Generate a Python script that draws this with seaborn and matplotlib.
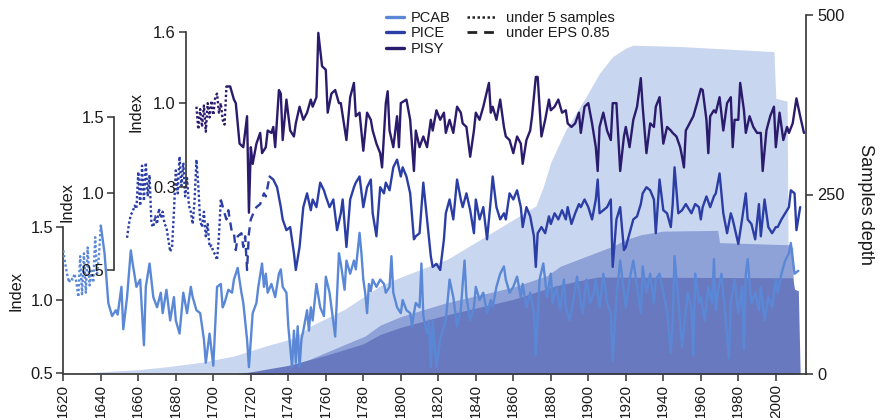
import matplotlib
matplotlib.use("Agg")
import matplotlib.pyplot as plt
from matplotlib import font_manager as fm
from matplotlib.lines import Line2D
import pandas as pd
import seaborn as sns

# ---------------------------------------------------------------- data
# Chronology indices (year, index)
PCAB = [
    (1620, 1.34), (1621, 1.25), (1622, 1.18), (1623, 1.12), (1624, 1.15), (1625, 1.14), (1626, 1.18),
    (1627, 1.12), (1628, 1.02), (1629, 1.30), (1630, 1.04), (1631, 1.32), (1632, 1.05), (1633, 1.36),
    (1634, 1.10), (1635, 1.20), (1636, 1.12), (1637, 1.43), (1638, 1.18), (1639, 1.30),
    (1640, 1.51), (1642, 1.32), (1644, 0.98), (1646, 0.89), (1648, 0.93), (1649, 0.90), (1651, 1.09),
    (1652, 0.80), (1654, 1.02), (1656, 1.34), (1657, 1.25), (1659, 1.09), (1661, 1.14), (1663, 0.69),
    (1664, 1.09), (1666, 1.25), (1668, 1.02), (1670, 0.95), (1672, 1.05), (1673, 0.91), (1675, 1.07),
    (1677, 0.86), (1679, 1.02), (1680, 0.86), (1682, 0.77), (1684, 1.05), (1686, 0.91), (1688, 1.09),
    (1689, 1.02), (1691, 0.93), (1693, 0.91), (1695, 0.73), (1696, 0.57),
    (1698, 0.77), (1700, 0.55), (1702, 1.09), (1704, 1.11), (1705, 0.95), (1706, 0.98), (1708, 1.07),
    (1710, 1.05), (1711, 1.14), (1713, 1.22), (1715, 1.05), (1716, 0.98), (1718, 0.73), (1719, 0.54),
    (1720, 0.73), (1721, 0.91), (1723, 0.98), (1724, 1.09), (1726, 1.25), (1727, 1.09), (1728, 1.18),
    (1729, 1.05), (1731, 1.11), (1733, 1.02), (1735, 1.18), (1736, 1.21), (1737, 1.09), (1739, 1.05),
    (1740, 0.82), (1742, 0.54), (1743, 0.79), (1744, 0.57), (1745, 0.82), (1746, 0.54), (1747, 0.73),
    (1748, 0.79), (1750, 0.93), (1751, 0.79), (1752, 0.95), (1753, 0.86), (1755, 1.11), (1757, 0.95),
    (1759, 0.89), (1760, 1.16), (1762, 1.05), (1765, 0.75), (1767, 1.32), (1768, 1.25), (1770, 1.07),
    (1771, 1.27), (1773, 1.18), (1775, 1.27), (1776, 1.21),
    (1778, 1.46), (1779, 1.32), (1780, 1.14), (1781, 1.05), (1782, 0.91), (1783, 1.11), (1784, 1.06),
    (1785, 1.14), (1787, 1.09), (1789, 1.14), (1791, 1.11), (1792, 1.05), (1794, 1.09), (1795, 1.30),
    (1796, 1.05), (1798, 0.95), (1800, 0.91), (1801, 1.00), (1803, 0.93), (1805, 0.91), (1806, 0.82),
    (1807, 0.91), (1808, 0.98), (1810, 0.95), (1811, 1.25), (1812, 0.89), (1814, 0.77), (1815, 0.86),
    (1816, 0.54), (1817, 0.86), (1819, 0.54), (1821, 0.73), (1823, 0.82), (1824, 0.86), (1826, 1.14),
    (1828, 1.02), (1830, 0.82), (1832, 0.93), (1833, 1.11), (1834, 1.27), (1835, 1.02), (1837, 0.86),
    (1839, 0.95), (1840, 1.09), (1842, 1.00), (1844, 1.05), (1846, 0.91), (1848, 1.00), (1849, 0.95),
    (1851, 1.09), (1853, 1.18), (1855, 1.23), (1856, 1.14),
    (1858, 1.05), (1860, 1.09), (1862, 1.16), (1864, 1.02), (1865, 1.11), (1867, 0.95), (1869, 1.05),
    (1871, 0.91), (1872, 0.62), (1874, 1.14), (1876, 1.25), (1878, 1.02), (1880, 1.18), (1881, 0.98),
    (1883, 1.09), (1885, 0.93), (1887, 1.14), (1888, 0.95), (1890, 0.86), (1892, 1.00), (1894, 1.16),
    (1896, 0.98), (1897, 0.91), (1899, 1.14), (1901, 0.98), (1903, 1.05), (1904, 1.14), (1906, 0.95),
    (1908, 1.18), (1910, 0.98), (1912, 0.91), (1913, 0.58), (1915, 1.02), (1917, 1.27), (1919, 1.05),
    (1920, 0.95), (1922, 1.14), (1924, 1.27), (1926, 1.09), (1928, 0.91), (1929, 1.23), (1931, 1.05),
    (1933, 1.18), (1935, 0.98), (1936, 1.14),
    (1938, 1.18), (1940, 1.05), (1942, 0.93), (1944, 0.64), (1945, 0.86), (1946, 1.30), (1948, 1.00),
    (1950, 0.68), (1952, 0.93), (1953, 1.05), (1955, 0.95), (1956, 0.62), (1957, 1.18), (1959, 0.98),
    (1960, 1.02), (1962, 0.86), (1964, 1.09), (1966, 0.98), (1967, 1.28), (1968, 0.93), (1969, 1.05),
    (1971, 1.18), (1973, 0.91), (1975, 0.60), (1976, 0.98), (1978, 1.14), (1980, 0.91), (1982, 1.09),
    (1983, 0.66), (1984, 1.18), (1985, 1.28), (1987, 0.98), (1989, 1.05), (1991, 0.93), (1992, 1.09),
    (1994, 0.86), (1996, 1.02), (1998, 0.95), (2000, 1.14), (2001, 1.05), (2003, 1.18), (2005, 1.27),
    (2007, 1.32), (2008, 1.39), (2010, 1.18), (2012, 1.20),
]

PICE = [
    (1654, 0.71), (1655, 0.80), (1656, 0.86), (1657, 0.88), (1658, 0.92), (1659, 0.90), (1660, 1.14),
    (1661, 0.92), (1662, 1.18), (1663, 0.95), (1664, 1.20), (1665, 0.98), (1666, 1.12), (1667, 0.80),
    (1668, 0.78), (1669, 0.85), (1670, 0.80), (1671, 0.90), (1672, 0.84), (1673, 0.88), (1674, 0.80),
    (1675, 0.78), (1676, 0.70), (1677, 0.62), (1678, 0.65), (1679, 0.88), (1680, 1.15), (1681, 1.00),
    (1682, 1.24), (1683, 1.05), (1684, 1.20), (1685, 0.98), (1686, 1.10), (1687, 0.92), (1688, 0.88),
    (1689, 0.80), (1690, 0.95), (1691, 1.22), (1692, 1.05), (1693, 0.82), (1694, 0.78), (1695, 0.88),
    (1696, 0.72), (1697, 0.80), (1698, 0.65), (1699, 0.66), (1700, 0.62), (1701, 0.60), (1702, 0.565),
    (1703, 0.72),
    (1704, 0.96), (1706, 0.87), (1707, 0.83), (1708, 0.89), (1710, 0.74), (1711, 0.74), (1712, 0.63),
    (1713, 0.72), (1715, 0.74), (1716, 0.65), (1717, 0.72), (1718, 0.50), (1719, 0.74), (1720, 0.83),
    (1722, 0.89), (1723, 0.91), (1725, 0.93), (1727, 1.00), (1728, 0.98),
    (1730, 1.11), (1732, 1.09), (1734, 1.04), (1736, 0.91), (1737, 0.83), (1739, 0.76), (1741, 0.78),
    (1743, 0.61), (1744, 0.50), (1746, 0.65), (1748, 0.91), (1750, 1.00), (1752, 0.89), (1753, 0.96),
    (1755, 0.91), (1757, 1.07), (1759, 1.02), (1760, 0.98), (1762, 0.91), (1764, 0.96), (1766, 0.76),
    (1768, 0.87), (1769, 0.96), (1771, 0.65), (1773, 0.96), (1775, 1.04), (1776, 1.07),
    (1778, 1.11), (1780, 0.91), (1782, 1.04), (1784, 1.09), (1785, 0.87), (1787, 0.72), (1789, 1.04),
    (1791, 1.00), (1792, 1.07), (1794, 1.02), (1796, 1.17), (1798, 1.22), (1800, 1.11), (1801, 1.17),
    (1803, 1.11), (1805, 1.00), (1807, 0.70), (1808, 0.72), (1810, 0.74), (1812, 1.07), (1814, 0.83),
    (1816, 0.59), (1817, 0.52), (1819, 0.54), (1821, 0.50), (1823, 0.70), (1824, 0.87), (1826, 0.96),
    (1828, 0.83), (1830, 1.09), (1832, 0.96), (1833, 0.91), (1835, 1.00), (1837, 0.89), (1839, 0.74),
    (1840, 0.96), (1842, 0.83), (1844, 0.91), (1846, 0.70), (1848, 0.96), (1849, 1.11), (1851, 0.91),
    (1853, 0.83), (1855, 0.87), (1856, 0.83),
    (1858, 1.00), (1860, 0.96), (1862, 1.02), (1864, 0.91), (1865, 0.78), (1867, 0.91), (1869, 0.85),
    (1871, 0.72), (1872, 0.52), (1873, 0.74), (1875, 0.78), (1877, 0.74), (1879, 0.85), (1880, 0.80),
    (1882, 0.87), (1884, 0.83), (1886, 0.89), (1888, 0.83), (1889, 0.91), (1891, 0.80), (1893, 0.87),
    (1895, 0.93), (1896, 0.91), (1898, 0.96), (1900, 0.91), (1902, 0.83), (1904, 0.96), (1905, 1.09),
    (1906, 0.87), (1908, 0.89), (1910, 0.91), (1912, 0.96), (1913, 0.52), (1915, 0.83), (1917, 0.91),
    (1919, 0.63), (1920, 0.65), (1922, 0.74), (1924, 0.83), (1926, 0.85), (1928, 0.93), (1929, 1.00),
    (1931, 1.04), (1933, 1.02), (1935, 0.96), (1936, 0.74),
    (1938, 1.09), (1940, 0.89), (1942, 0.87), (1944, 0.78), (1945, 0.93), (1946, 1.17), (1948, 0.87),
    (1950, 0.89), (1952, 0.93), (1953, 0.91), (1955, 0.87), (1957, 0.93), (1959, 0.91), (1960, 0.83),
    (1961, 0.91), (1963, 0.98), (1965, 0.91), (1967, 0.98), (1968, 1.00), (1970, 1.13), (1972, 0.87),
    (1974, 0.74), (1976, 0.87), (1977, 0.83), (1980, 0.67), (1982, 0.83), (1984, 1.00), (1985, 0.83),
    (1987, 0.80), (1989, 0.70), (1991, 0.93), (1992, 0.72), (1994, 0.96), (1996, 0.78), (1998, 0.74),
    (2000, 0.78), (2001, 0.78), (2003, 0.83), (2005, 0.87), (2007, 0.91), (2008, 1.02), (2010, 1.00),
    (2011, 0.76), (2013, 0.91),
]

PISY = [
    (1691, 0.97), (1692, 0.78), (1693, 0.95), (1694, 0.80), (1695, 0.98), (1696, 0.76), (1697, 1.00),
    (1698, 0.88), (1699, 1.02), (1700, 0.90), (1701, 1.05), (1702, 1.08), (1703, 0.92), (1704, 1.00),
    (1705, 0.86), (1706, 0.82),
    (1707, 1.14), (1709, 1.14), (1711, 1.03), (1712, 1.00), (1714, 0.66), (1716, 0.63), (1718, 0.89),
    (1719, 0.08), (1720, 0.63), (1721, 0.49), (1723, 0.66), (1725, 0.75), (1726, 0.58), (1728, 0.63),
    (1729, 0.77), (1731, 0.75), (1732, 0.80), (1733, 0.63), (1735, 1.11), (1736, 1.08), (1737, 0.69),
    (1739, 1.03), (1741, 0.77), (1743, 0.72), (1744, 0.83), (1746, 0.97), (1748, 0.86), (1750, 0.92),
    (1752, 1.03), (1753, 0.97), (1755, 1.05), (1756, 1.59), (1758, 1.31), (1760, 1.28), (1761, 0.92),
    (1763, 1.08), (1765, 1.11), (1767, 1.00), (1768, 1.00), (1771, 0.69), (1773, 1.05), (1775, 1.17),
    (1776, 0.89),
    (1778, 0.92), (1780, 0.60), (1782, 0.92), (1784, 0.86), (1785, 0.77), (1787, 0.66), (1789, 0.58),
    (1790, 0.46), (1792, 1.00), (1793, 1.10), (1794, 0.77), (1796, 0.63), (1798, 0.89), (1799, 0.63),
    (1800, 1.00), (1803, 1.03), (1805, 0.86), (1807, 0.43), (1808, 0.77), (1810, 0.63), (1812, 0.72),
    (1814, 0.63), (1816, 0.86), (1817, 0.77), (1819, 0.94), (1821, 0.86), (1823, 0.92), (1824, 0.75),
    (1826, 0.86), (1828, 0.75), (1830, 0.97), (1832, 0.92), (1833, 0.83), (1835, 0.80), (1837, 0.55),
    (1839, 0.77), (1840, 0.92), (1842, 0.86), (1844, 0.97), (1847, 1.17), (1848, 0.92), (1849, 0.97),
    (1851, 0.86), (1853, 1.03), (1855, 0.80), (1856, 0.72),
    (1858, 0.69), (1860, 0.58), (1862, 0.72), (1864, 0.66), (1865, 0.49), (1867, 0.69), (1869, 0.77),
    (1870, 0.89), (1872, 1.22), (1873, 1.22), (1874, 0.97), (1875, 0.72), (1877, 0.86), (1879, 1.03),
    (1880, 0.94), (1882, 0.97), (1884, 1.03), (1886, 0.92), (1888, 0.94), (1889, 0.83), (1891, 0.80),
    (1893, 0.83), (1895, 0.92), (1896, 0.75), (1898, 0.97), (1900, 1.00), (1902, 0.83), (1904, 0.63),
    (1905, 0.43), (1906, 0.80), (1908, 0.92), (1910, 0.77), (1912, 0.69), (1913, 1.00), (1915, 1.00),
    (1917, 0.43), (1919, 0.72), (1920, 0.80), (1922, 0.63), (1924, 0.86), (1926, 0.97), (1928, 1.21),
    (1929, 0.97), (1931, 0.58), (1933, 0.83), (1935, 0.80), (1936, 0.97),
    (1938, 1.05), (1940, 0.66), (1942, 0.80), (1944, 0.77), (1945, 0.75), (1947, 0.72), (1949, 0.63),
    (1950, 0.55), (1951, 0.46), (1952, 0.77), (1954, 0.83), (1956, 0.89), (1958, 1.00), (1960, 1.12),
    (1961, 1.11), (1963, 0.86), (1964, 0.58), (1965, 0.89), (1967, 0.94), (1968, 0.92), (1970, 1.05),
    (1972, 0.77), (1974, 1.00), (1976, 1.05), (1977, 0.63), (1978, 0.86), (1980, 0.86), (1981, 1.17),
    (1983, 0.94), (1984, 0.75), (1986, 0.89), (1988, 0.80), (1990, 0.75), (1992, 0.75), (1993, 0.43),
    (1995, 0.77), (1997, 0.89), (1999, 0.97), (2000, 0.63), (2002, 0.92), (2004, 0.69), (2006, 0.80),
    (2007, 0.75), (2009, 0.83), (2011, 1.04), (2013, 0.89), (2015, 0.75),
]

# Sample depth (year, number of samples)
DEPTH_ALL = [
    (1627, 0), (1640, 3), (1660, 6), (1675, 10), (1693, 16), (1711, 25), (1728, 39), (1743, 50),
    (1752, 67), (1770, 90), (1781, 109), (1789, 123), (1800, 135), (1825, 160), (1860, 215),
    (1872, 234), (1876, 261), (1880, 295), (1888, 340), (1899, 387), (1906, 419), (1913, 442),
    (1920, 454), (1924, 458), (1950, 456), (1985, 451), (1999, 449), (2000, 384), (2006, 380), (2007, 0),
]
DEPTH_MID = [
    (1718, 0), (1740, 8), (1760, 30), (1781, 53), (1789, 68), (1800, 80), (1824, 99), (1860, 121),
    (1878, 137), (1885, 150), (1899, 164), (1913, 178), (1920, 187), (1928, 194), (1940, 199),
    (1969, 200), (1970, 183), (2007, 180), (2009, 176), (2010, 0),
]
DEPTH_LOW = [
    (1712, 0), (1720, 3), (1740, 12), (1760, 26), (1780, 42), (1789, 55), (1800, 65), (1824, 82),
    (1860, 104), (1883, 123), (1899, 132), (1905, 135), (2009, 134), (2010, 118), (2012, 116), (2013, 0),
]

# Periods drawn dotted (under 5 samples) and dashed (under EPS 0.85)
PERIODS = {
    "PCAB": [(1620, 1640, "dot"), (1640, 2012, "solid")],
    "PICE": [(1654, 1704, "dot"), (1704, 1730, "dash"), (1730, 2013, "solid")],
    "PISY": [(1691, 1707, "dot"), (1707, 2015, "solid")],
}

YEAR_TICKS = list(range(1620, 2001, 20))
DEPTH_TICKS = [0, 250, 500]

# ---------------------------------------------------------------- style
sns.set_theme(style="ticks")


def first_font(names):
    for name in names:
        try:
            fm.findfont(fm.FontProperties(family=name), fallback_to_default=False)
            return name
        except ValueError:
            continue
    return "DejaVu Sans"


FONT = first_font(["Liberation Sans Narrow", "Liberation Sans", "Arial"])
NARROW = FONT == "Liberation Sans Narrow"
K = 1.0 if NARROW else 0.84
plt.rcParams["font.family"] = [FONT, "DejaVu Sans"]

TICK_FS = 14 * K
XTICK_FS = 14 if NARROW else 11
LABEL_FS = 14 * K
LEG_FS = 12.5 * K
DEPTH_FS = 15.5 * K

C_PCAB = "#5a88d6"
C_PICE = "#2b3ea6"
C_PISY = "#2a1b6c"
C_ALL = "#c9d6ef"
C_MID = "#8ea2d8"
C_LOW = "#6979bf"
C_AXIS = "#333333"
C_TEXT = "#1a1a1a"
LW = 1.7
STYLES = {"dot": (0, (1, 1)), "dash": (0, (3.5, 2.5)), "solid": "-"}

W_PX, H_PX = 880, 418
fig = plt.figure(figsize=(W_PX / 100, H_PX / 100), dpi=100)

X0, X1, Y_TOP, Y_BOT = 63.3, 806.0, 15.0, 374.0
ax = fig.add_axes([X0 / W_PX, (H_PX - Y_BOT) / H_PX,
                   (X1 - X0) / W_PX, (Y_BOT - Y_TOP) / H_PX])
AX_W, AX_H = X1 - X0, Y_BOT - Y_TOP

# ---------------------------------------------------------------- sample depth
for series, color in ((DEPTH_ALL, C_ALL), (DEPTH_MID, C_MID), (DEPTH_LOW, C_LOW)):
    d = pd.DataFrame(series, columns=["year", "samples"])
    ax.fill_between(d["year"], d["samples"], 0, color=color, lw=0, zorder=1)

ax.set_xlim(1620, 2016.1)
ax.set_ylim(0, 500)
ax.set_xticks(YEAR_TICKS)
ax.set_xticklabels([str(y) for y in YEAR_TICKS])
ax.set_yticks(DEPTH_TICKS)
ax.set_yticklabels([str(v) for v in DEPTH_TICKS])
ax.grid(False)


def index_axis(v_low, y_low, px_per_unit, spine_px, ticks, labels):
    """Twin axis whose value v_low sits at pixel row y_low."""
    t = ax.twinx()
    lo = v_low - (Y_BOT - y_low) / px_per_unit
    hi = lo + AX_H / px_per_unit
    t.set_ylim(lo, hi)
    t.yaxis.tick_left()
    t.yaxis.set_label_position("left")
    for s in ("right", "top", "bottom"):
        t.spines[s].set_visible(False)
    sp = t.spines["left"]
    sp.set_visible(True)
    sp.set_position(("axes", (spine_px - X0) / AX_W))
    sp.set_bounds(min(ticks), max(ticks))
    sp.set_color(C_AXIS)
    sp.set_linewidth(1.2)
    t.set_yticks(ticks)
    t.set_yticklabels(labels)
    t.tick_params(axis="y", length=5, width=1.1, pad=2, colors=C_AXIS,
                  labelcolor=C_TEXT, labelsize=TICK_FS)
    t.grid(False)
    t.patch.set_visible(False)
    return t


ax_pcab = index_axis(0.5, 373.0, 146.0, X0, [0.5, 1.0, 1.5], ["0.5", "1.0", "1.5"])
ax_pice = index_axis(0.5, 270.0, 153.3, 114.0, [0.5, 1.0, 1.5], ["0.5", "1.0", "1.5"])
ax_pisy = index_axis(0.3, 186.5, 119.1, 185.5, [0.3, 1.0, 1.6], ["0.3", "1.0", "1.6"])

# main axis: depth on the right, years along the bottom
ax.yaxis.tick_right()
ax.yaxis.set_label_position("right")
ax.spines["left"].set_visible(False)
ax.spines["top"].set_visible(False)
for s in ("right", "bottom"):
    ax.spines[s].set_visible(True)
    ax.spines[s].set_color(C_AXIS)
    ax.spines[s].set_linewidth(1.2)
ax.tick_params(axis="x", length=5, width=1.1, pad=2, colors=C_AXIS,
               labelcolor=C_TEXT, labelsize=XTICK_FS, labelrotation=90)
ax.tick_params(axis="y", length=5, width=1.1, pad=3, colors=C_AXIS,
               labelcolor=C_TEXT, labelsize=TICK_FS)
ax.set_xlabel("")
ax.set_ylabel("")


# ---------------------------------------------------------------- chronologies
def draw_series(target, pairs, color, periods):
    d = pd.DataFrame(pairs, columns=["year", "index"])
    for start, end, kind in periods:
        part = d[(d["year"] >= start) & (d["year"] <= end)]
        sns.lineplot(data=part, x="year", y="index", ax=target, color=color,
                     linestyle=STYLES[kind], linewidth=LW, estimator=None,
                     sort=False, legend=False, zorder=3)
    target.set_xlabel("")
    target.set_ylabel("")


draw_series(ax_pcab, PCAB, C_PCAB, PERIODS["PCAB"])
draw_series(ax_pice, PICE, C_PICE, PERIODS["PICE"])
draw_series(ax_pisy, PISY, C_PISY, PERIODS["PISY"])
ax.set_xlim(1620, 2016.1)

# ---------------------------------------------------------------- labels
def fig_text(x_px, y_px, s, **kw):
    fig.text(x_px / W_PX, 1 - y_px / H_PX, s, ha="center", va="center",
             color=C_TEXT, **kw)


fig_text(16, 291, "Index", rotation=90, fontsize=LABEL_FS)
fig_text(67, 202, "Index", rotation=90, fontsize=LABEL_FS)
fig_text(136, 112, "Index", rotation=90, fontsize=LABEL_FS)
fig_text(865, 204, "Samples depth", rotation=270, fontsize=DEPTH_FS)

# ---------------------------------------------------------------- legends
species_handles = [Line2D([], [], color=c, lw=2.4) for c in (C_PCAB, C_PICE, C_PISY)]
leg1 = fig.legend(species_handles, ["PCAB", "PICE", "PISY"], loc="upper left",
                  bbox_to_anchor=(386 / W_PX, 1 - 11 / H_PX), frameon=False,
                  fontsize=LEG_FS, handlelength=1.2, handletextpad=0.5,
                  labelspacing=0.1, borderpad=0, borderaxespad=0)
quality_handles = [
    Line2D([], [], color="#222222", lw=1.8, linestyle=STYLES["dot"]),
    Line2D([], [], color="#222222", lw=2.0, linestyle=(0, (3.5, 2.5))),
]
leg2 = fig.legend(quality_handles, ["under 5 samples", "under EPS 0.85"], loc="upper left",
                  bbox_to_anchor=(467 / W_PX, 1 - 11 / H_PX), frameon=False,
                  fontsize=LEG_FS, handlelength=2.0, handletextpad=0.7,
                  labelspacing=0.1, borderpad=0, borderaxespad=0)
for lg in (leg1, leg2):
    for txt in lg.get_texts():
        txt.set_color(C_TEXT)

fig.savefig("out.png", dpi=100)
